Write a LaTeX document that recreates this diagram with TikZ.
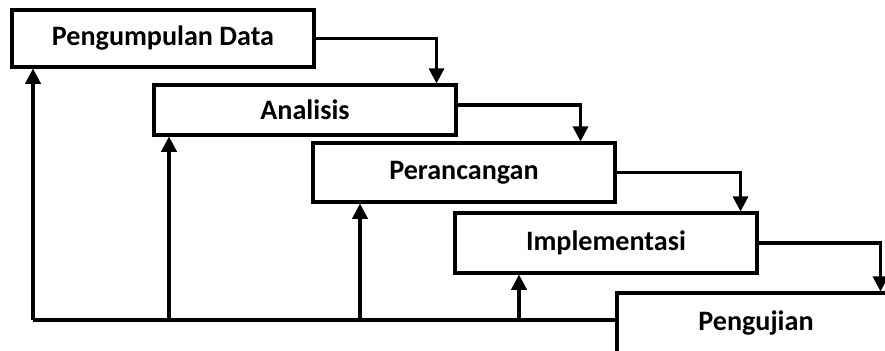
\documentclass[tikz,border=0pt]{standalone}
\usepackage{fontspec}
\setmainfont{Carlito}
\usetikzlibrary{positioning}
\usetikzlibrary{arrows.meta}

\tikzset{
  stage/.style={rectangle, draw, line width=2.6pt, fill=white, align=center, minimum width=9.06cm, font=\bfseries\fontsize{24}{28}\selectfont},
  flow/.style={line width=2.6pt, -{Triangle[width=13pt,length=13pt]}},
  feed/.style={line width=2.6pt}
}

\begin{document}
\begin{tikzpicture}[x=0.03cm, y=-0.03cm]
\useasboundingbox (0,0) rectangle (885,350);

% Nodes
\node (pd) [stage, minimum height=1.71cm] at (163,38.5) {Pengumpulan Data};
\node (an) [stage, minimum height=1.5cm] at (305,110) {Analisis};
\node (pr) [stage, minimum height=1.77cm] at (464,172.5) {Perancangan};
\node (im) [stage, minimum height=1.8cm] at (606,243) {Implementasi};
\node (pj) [stage, minimum width=8.34cm, minimum height=1.8cm] at (756,323) {Pengujian};

% Arrows
\draw[flow] (pd.east) -| ([xshift=-0.63cm]an.north east);
\draw[flow] ([yshift=0.15cm]an.east) -| ([xshift=-1.08cm]pr.north east);
\draw[flow] (pr.east) -| ([xshift=-0.54cm]im.north east);
\draw[flow] (im.east) -| ([xshift=-0.48cm]pj.north east);

% Feedback
\coordinate (f1) at (33,320);
\coordinate (f2) at (169,320);
\coordinate (f3) at (360,320);
\coordinate (f4) at (519,320);
\draw[feed] (f1) -- (f1 -| pj.west);
\draw[flow] (f1) -- (f1 |- pd.south);
\draw[flow] (f2) -- (f2 |- an.south);
\draw[flow] (f3) -- (f3 |- pr.south);
\draw[flow] (f4) -- (f4 |- im.south);

\end{tikzpicture}
\end{document}
